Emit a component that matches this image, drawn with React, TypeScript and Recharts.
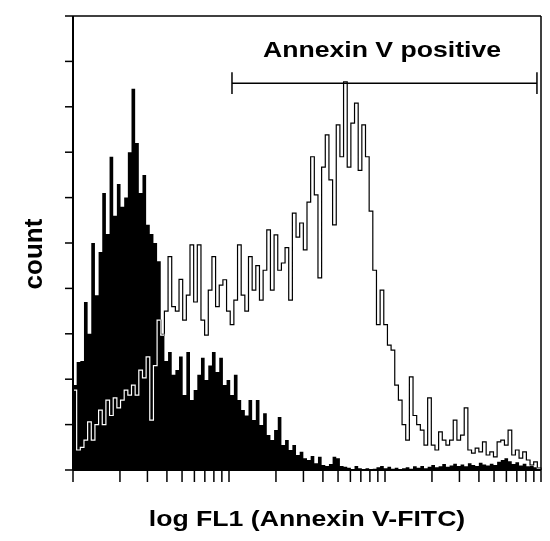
import { ComposedChart, Area, Line, XAxis, YAxis, ReferenceLine, CartesianGrid } from "recharts";

// 128 channels across three log decades (counts)
const CONTROL = [
  18.7, 23.8, 24, 37, 30, 50, 38.5, 48, 61, 52, 69, 56, 63, 58, 60, 70,
  84, 72, 61, 65, 54, 52, 50, 46, 30, 24, 26, 21, 22, 25, 16.5, 26,
  15.4, 17.6, 21, 24.7, 19.8, 23, 26, 21.6, 24.7, 18.7, 19.8, 16.5, 21, 15.4, 13.2, 12,
  15.4, 11, 15.4, 9.9, 12.5, 7.7, 6.6, 8.8, 11.7, 5.5, 6.6, 4.4, 5.5, 3.3, 4, 2.6,
  2.2, 3.1, 1.5, 2.9, 1.1, 0.9, 1.3, 2.9, 2.6, 0.9, 0.7, 0.5, 0.2, 0.9, 0.4, 0,
  0.4, 0, 0.3, 0.6, 0.9, 0.4, 0.7, 0.3, 0.5, 0, 0.4, 0.6, 0.3, 0.8, 0.5, 0.9,
  0.4, 0.7, 1.1, 0.6, 0.8, 1.3, 0.7, 1.0, 1.4, 0.9, 1.2, 0.8, 1.5, 1.1, 0.9, 1.6,
  1.2, 1.0, 1.4, 1.1, 1.8, 2.2, 2.6, 1.9, 1.3, 1.7, 1.0, 1.4, 0.8, 1.1, 0.6, 0.4,
];

const ANNEXIN = [
  17.6, 4.4, 5, 6.6, 10.6, 6.6, 10, 13.2, 10, 15.4, 12, 15.9, 13.7, 15.4, 17.6, 16.5,
  18.7, 16.5, 22, 20.3, 24.9, 11, 23, 33, 29.7, 35, 47, 36, 35, 42, 33, 38.5,
  49.6, 37, 49.6, 33, 29.7, 39.6, 47, 36, 40.7, 41.9, 35, 32, 37.4, 49.6, 38.5, 35,
  47, 39.6, 45, 37.4, 44, 52.9, 39.6, 51.8, 44, 45.6, 49, 37.4, 56.6, 51.3, 54.4, 48.5,
  59, 69, 60.6, 42.3, 66.7, 73.8, 63.9, 54, 76, 69, 85.5, 66.7, 76.4, 80.8, 66, 76,
  69, 57, 44, 32, 39.6, 32, 27.5, 26.4, 18.7, 15.4, 10, 6.6, 20.5, 12, 10, 8.8,
  5.5, 15.9, 5.5, 4.4, 8.4, 6.6, 5.5, 6.6, 11, 6.6, 7.7, 13.7, 4.4, 3.7, 4.8, 4,
  6.2, 3.3, 4, 2.9, 6.2, 6.6, 5.5, 8.8, 3.3, 4.4, 2.6, 4, 2.2, 1.1, 1.8, 0.4,
];

const LOG_TICKS = [
  1, 2, 3, 4, 5, 6, 7, 8, 9,
  10, 20, 30, 40, 50, 60, 70, 80, 90,
  100, 200, 300, 400, 500, 600, 700, 800, 900, 1000,
];
const COUNT_TICKS = [0, 10, 20, 30, 40, 50, 60, 70, 80, 90, 100];

// marker for the "Annexin V positive" region, in FL1 units
const GATE_X = [10.45, 942];
const GATE_Y = 85.2;
const GATE_CAP = 2.4;

const N = CONTROL.length;
const DECADES = 3;
// FL1 value -> channel number
const toCh = (v: number) => (Math.log10(v) / DECADES) * N;

const data = CONTROL.map((c, i) => ({ ch: i, control: c, annexin: ANNEXIN[i] }));
data.push({ ch: N, control: 0, annexin: 0 });

const g0 = toCh(GATE_X[0]);
const g1 = toCh(GATE_X[1]);

const font = '"Liberation Sans", Arial, sans-serif';
const noLabel = () => <g />;

export default function App() {
  return (
    <div style={{ position: "relative", width: 550, height: 541, background: "#fff" }}>
      <style>{"body{margin:0} .xor{mix-blend-mode:difference}"}</style>
      <ComposedChart width={550} height={541} data={data} margin={{ top: 16, right: 9, bottom: 59, left: 63 }}>
        <CartesianGrid horizontal={false} vertical={false} fill="#fff" />
        <XAxis
          dataKey="ch"
          type="number"
          domain={[0, N]}
          ticks={LOG_TICKS.map(toCh)}
          interval={0}
          tick={noLabel}
          tickSize={12}
          height={12}
          axisLine={{ stroke: "#000", strokeWidth: 2 }}
          tickLine={{ stroke: "#000", strokeWidth: 1.5 }}
        />
        <YAxis
          type="number"
          domain={[0, 100]}
          ticks={COUNT_TICKS}
          interval={0}
          tick={noLabel}
          tickSize={8}
          width={10}
          axisLine={{ stroke: "#000", strokeWidth: 2 }}
          tickLine={{ stroke: "#000", strokeWidth: 1.5 }}
        />
        <Area
          type="stepAfter"
          dataKey="control"
          fill="#000"
          fillOpacity={1}
          stroke="none"
          isAnimationActive={false}
        />
        <Line
          className="xor"
          type="stepAfter"
          dataKey="annexin"
          stroke="#fff"
          strokeWidth={1.2}
          dot={false}
          activeDot={false}
          isAnimationActive={false}
        />
        <ReferenceLine y={100} stroke="#000" strokeWidth={1.5} />
        <ReferenceLine x={N} stroke="#000" strokeWidth={1.5} />
        <ReferenceLine
          segment={[{ x: g0, y: GATE_Y }, { x: g1, y: GATE_Y }]}
          stroke="#000"
          strokeWidth={1.5}
        />
        <ReferenceLine
          segment={[{ x: g0, y: GATE_Y - GATE_CAP }, { x: g0, y: GATE_Y + GATE_CAP }]}
          stroke="#000"
          strokeWidth={1.5}
        />
        <ReferenceLine
          segment={[{ x: g1, y: GATE_Y - GATE_CAP }, { x: g1, y: GATE_Y + GATE_CAP }]}
          stroke="#000"
          strokeWidth={1.5}
        />
      </ComposedChart>
      <div
        style={{
          position: "absolute", left: 232, top: 39, width: 300, textAlign: "center",
          fontFamily: font, fontWeight: "bold", fontSize: 22, lineHeight: "22px",
          whiteSpace: "nowrap", transform: "scaleX(1.21)",
        }}
      >
        Annexin V positive
      </div>
      <div
        style={{
          position: "absolute", left: 107, top: 508, width: 400, textAlign: "center",
          fontFamily: font, fontWeight: "bold", fontSize: 22, lineHeight: "22px",
          whiteSpace: "nowrap", transform: "scaleX(1.21)",
        }}
      >
        log FL1 (Annexin V-FITC)
      </div>
      <div
        style={{
          position: "absolute", left: -17, top: 241, width: 100, height: 26, textAlign: "center",
          fontFamily: font, fontWeight: "bold", fontSize: 26, lineHeight: "26px",
          whiteSpace: "nowrap", transform: "rotate(-90deg)",
        }}
      >
        count
      </div>
    </div>
  );
}
